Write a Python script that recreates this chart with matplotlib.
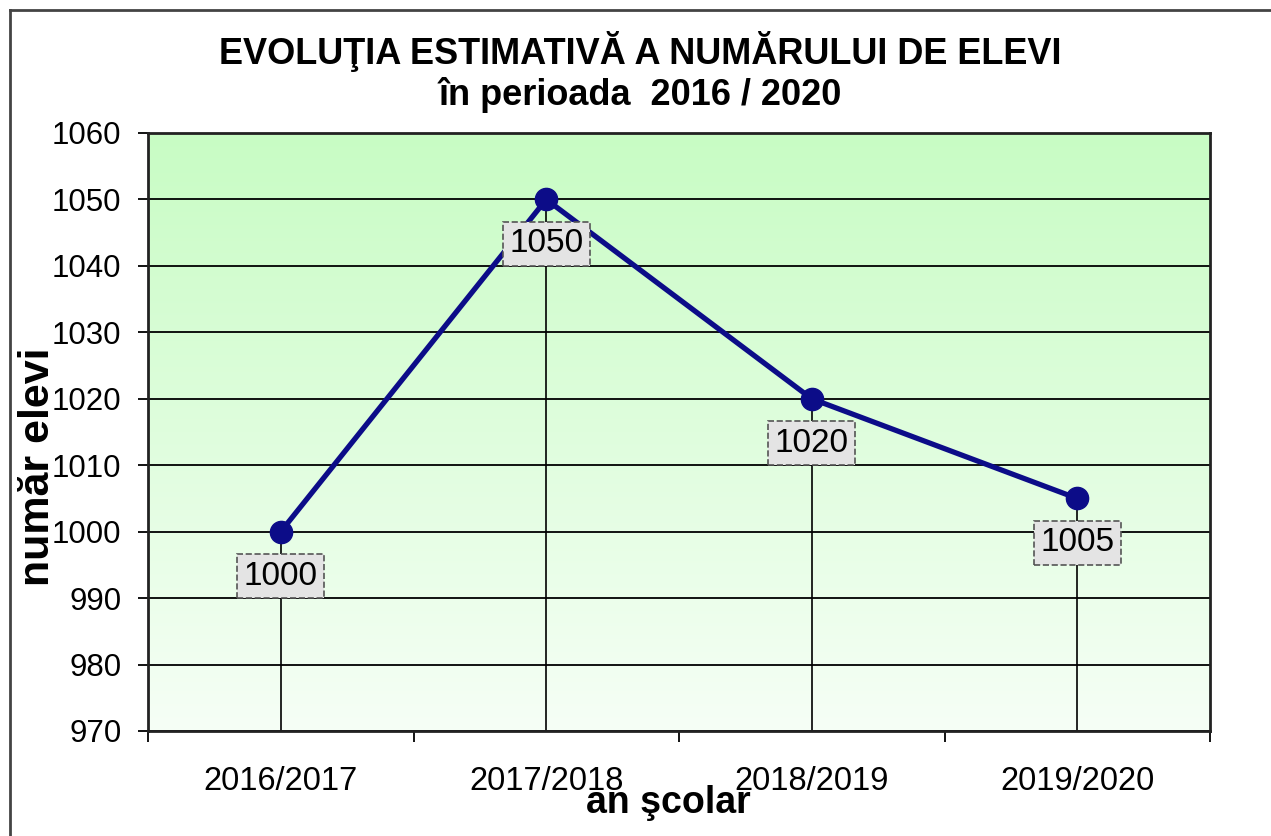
import numpy as np
import matplotlib
matplotlib.use("Agg")
import matplotlib.pyplot as plt
from matplotlib.lines import Line2D
from matplotlib.colors import to_rgb

plt.rcParams['font.family'] = ['Liberation Sans', 'DejaVu Sans']

# data
ani = ["2016/2017", "2017/2018", "2018/2019", "2019/2020"]
elevi = [1000, 1050, 1020, 1005]
y_ticks = [970, 980, 990, 1000, 1010, 1020, 1030, 1040, 1050, 1060]

fig = plt.figure(figsize=(12.71, 8.36), dpi=100)
ax = fig.add_axes([148 / 1271, 1 - 731 / 836, (1210 - 148) / 1271, (731 - 133) / 836])

x = np.arange(len(ani))
ax.set_xlim(-0.5, len(ani) - 0.5)
ax.set_ylim(y_ticks[0], y_ticks[-1])

# green gradient background (light at bottom, greener at top)
top = np.array(to_rgb("#c8fcc4"))
bot = np.array(to_rgb("#f6fff6"))
t = np.linspace(0, 1, 256)[:, None]
grad = (bot * (1 - t) + top * t)[:, None, :]
ax.imshow(grad, extent=[-0.5, len(ani) - 0.5, y_ticks[0], y_ticks[-1]],
          origin="lower", aspect="auto", zorder=0)

ax.set_yticks(y_ticks)
ax.yaxis.grid(True, color="black", lw=1.3)
ax.set_axisbelow(True)

# drop lines from points
ax.vlines(x, y_ticks[0], elevi, color="black", lw=1.2, zorder=2)

ax.plot(x, elevi, color="#0c0c88", lw=3.8, marker="o", ms=16, zorder=3)

for xi, v in zip(x, elevi):
    ax.annotate(str(v), (xi, v), xytext=(0, -32), textcoords="offset points",
                ha="center", va="center", fontsize=24, zorder=5,
                bbox=dict(boxstyle="square,pad=0.2", fc="#e4e4e4", ec="#555555",
                          ls="--", lw=1.2))

ax.set_xticks(x)
ax.set_xticklabels(ani, fontsize=23.5)
ax.set_xticks(np.arange(len(ani) + 1) - 0.5, minor=True)
ax.tick_params(axis="x", which="major", length=0, pad=25)
ax.tick_params(axis="x", which="minor", length=8, width=1.3, direction="out")
ax.tick_params(axis="y", labelsize=22.5, length=7, width=1.3, pad=12)

for s in ax.spines.values():
    s.set_linewidth(2)
    s.set_color("#222222")

fig.text(640 / 1271, 1 - 52 / 836, "EVOLUŢIA ESTIMATIVĂ A NUMĂRULUI DE ELEVI",
         ha="center", va="center", fontsize=26, fontweight="bold")
fig.text(640 / 1271, 1 - 95 / 836, "în perioada  2016 / 2020",
         ha="center", va="center", fontsize=26, fontweight="bold")
fig.text(38 / 1271, 1 - 467 / 836, "număr elevi", rotation=90,
         ha="center", va="center", fontsize=31, fontweight="bold")
fig.text(668 / 1271, 1 - 803 / 836, "an şcolar",
         ha="center", va="center", fontsize=27, fontweight="bold")

# outer frame (only top and left visible)
fig.add_artist(Line2D([10 / 1271, 1], [1 - 10 / 836, 1 - 10 / 836],
                      color="#444444", lw=2, transform=fig.transFigure))
fig.add_artist(Line2D([10 / 1271, 10 / 1271], [0, 1 - 10 / 836],
                      color="#444444", lw=2, transform=fig.transFigure))

fig.savefig("out.png", dpi=100)
